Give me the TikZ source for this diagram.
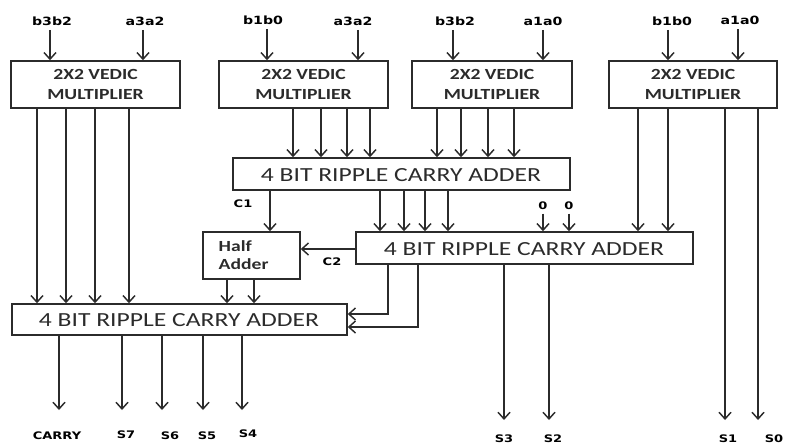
\documentclass[tikz,border=0pt]{standalone}
\usepackage{fontspec}
\usetikzlibrary{arrows.meta,fit}
\newfontfamily\labfont[FakeStretch=1.25]{DejaVu Sans}
\newfontfamily\calbold[FakeStretch=1.27]{Carlito}
\newfontfamily\calreg[FakeStretch=1.28]{Carlito}
\definecolor{ink}{HTML}{2B2B2B}
\tikzset{
  box/.style={draw=ink, line width=1.1pt, rectangle, inner sep=0pt},
  arr/.style={draw=ink, line width=1.1pt, -{Straight Barb[length=5pt,width=9pt,line width=1.1pt]}},
  wire/.style={draw=ink, line width=1.1pt},
  toplab/.style={inner sep=1pt, font=\labfont\bfseries\fontsize{8.5}{10}\selectfont, text=black},
  botlab/.style={inner sep=1pt, font=\labfont\bfseries\fontsize{7.8}{9}\selectfont, text=black},
  multtxt/.style={font=\calbold\bfseries\fontsize{11.6}{15.5}\selectfont, align=center, text=ink},
  addtxt/.style={font=\calreg\fontsize{15}{18}\selectfont, text=ink},
}
\begin{document}
\begin{tikzpicture}[x=0.75pt,y=-0.75pt]
\useasboundingbox (0,0) rectangle (787,447);
% multipliers
\node[box, fit={(11,61) (180,108)}] (m1) {};
\node[box, fit={(219,61) (388,108)}] (m2) {};
\node[box, fit={(412,61) (572,108)}] (m3) {};
\node[box, fit={(609,61) (777,108)}] (m4) {};
\foreach \m in {m1,m2,m3,m4}
  \node[multtxt] (\m t) at (\m.center) {2X2 VEDIC\\MULTIPLIER};
% adders
\node[box, fit={(233,158) (570,190)}] (add1) {};
\node[addtxt] (add1t) at (401,175) {4 BIT RIPPLE CARRY ADDER};
\node[box, fit={(356,232) (693,264)}] (add2) {};
\node[addtxt] (add2t) at (524,249) {4 BIT RIPPLE CARRY ADDER};
\node[box, fit={(12,304) (347,335)}] (add3) {};
\node[addtxt] (add3t) at (179,320) {4 BIT RIPPLE CARRY ADDER};
\node[box, fit={(203,232) (300,279)}] (ha) {};
\node[multtxt, anchor=west] (hat1) at (214,246) {Half};
\node[multtxt, anchor=west] (hat2) at (214,264) {Adder};
% top labels
\node[toplab] (l1) at (52,21) {b3b2};
\node[toplab] (l2) at (145,21) {a3a2};
\node[toplab] (l3) at (263,20) {b1b0};
\node[toplab] (l4) at (353,21) {a3a2};
\node[toplab] (l5) at (455,21) {b3b2};
\node[toplab] (l6) at (543,21) {a1a0};
\node[toplab] (l7) at (672,21) {b1b0};
\node[toplab] (l8) at (740,20) {a1a0};
\draw[arr] (l1.south -| 50,0) ++(0,3) -- (m1.north -| 50,0);
\draw[arr] (l2.south -| 143,0) ++(0,3) -- (m1.north -| 143,0);
\draw[arr] (l3.south -| 267,0) ++(0,3) -- (m2.north -| 267,0);
\draw[arr] (l4.south -| 358,0) ++(0,3) -- (m2.north -| 358,0);
\draw[arr] (l5.south -| 453,0) ++(0,3) -- (m3.north -| 453,0);
\draw[arr] (l6.south -| 543,0) ++(0,3) -- (m3.north -| 543,0);
\draw[arr] (l7.south -| 668,0) ++(0,3) -- (m4.north -| 668,0);
\draw[arr] (l8.south -| 738,0) ++(0,3) -- (m4.north -| 738,0);
% m1 -> add3
\foreach \x in {37,66,95,129}
  \draw[arr] (m1.south -| \x,0) -- (add3.north -| \x,0);
% m2 -> add1
\foreach \x in {293,321,347,370}
  \draw[arr] (m2.south -| \x,0) -- (add1.north -| \x,0);
% m3 -> add1
\foreach \x in {437,461,488,514}
  \draw[arr] (m3.south -| \x,0) -- (add1.north -| \x,0);
% m4 -> add2
\foreach \x in {638,668}
  \draw[arr] (m4.south -| \x,0) -- (add2.north -| \x,0);
% add1 -> add2
\foreach \x in {380,404,425,448}
  \draw[arr] (add1.south -| \x,0) -- (add2.north -| \x,0);
% C1
\draw[arr] (add1.south -| 270,0) -- (ha.north -| 270,0);
\node[botlab] (c1) at (243,204) {C1};
% zeros
\node[botlab] (z1) at (543,206) {0};
\node[botlab] (z2) at (569,206) {0};
\draw[arr] (z1.south) ++(0,2) -- (add2.north -| z1);
\draw[arr] (z2.south) ++(0,2) -- (add2.north -| z2);
% C2
\draw[arr] (add2.west |- 0,249) -- (ha.east |- 0,249);
\node[botlab] (c2) at (332,262) {C2};
% ha -> add3
\foreach \x in {227,254}
  \draw[arr] (ha.south -| \x,0) -- (add3.north -| \x,0);
% add2 -> add3
\draw[arr] (add2.south -| 388,0) |- (add3.east |- 0,314);
\draw[arr] (add2.south -| 418,0) |- (add3.east |- 0,327);
% outputs
\node[botlab] (oc) at (57,436) {CARRY};
\node[botlab] (o7) at (126,435) {S7};
\node[botlab] (o6) at (170,436) {S6};
\node[botlab] (o5) at (207,436) {S5};
\node[botlab] (o4) at (248,434) {S4};
\node[botlab] (o3) at (504,439) {S3};
\node[botlab] (o2) at (553,439) {S2};
\node[botlab] (o1) at (728,439) {S1};
\node[botlab] (o0) at (774,439) {S0};
\coordinate (tc) at (59,410);
\coordinate (t7) at (122,410);
\coordinate (t6) at (162,410);
\coordinate (t5) at (203,410);
\coordinate (t4) at (242,410);
\coordinate (t3) at (504,420);
\coordinate (t2) at (549,420);
\coordinate (t1) at (725,420);
\coordinate (t0) at (758,420);
\foreach \t in {tc,t7,t6,t5,t4}
  \draw[arr] (add3.south -| \t) -- (\t);
\foreach \t in {t3,t2}
  \draw[arr] (add2.south -| \t) -- (\t);
\foreach \t in {t1,t0}
  \draw[arr] (m4.south -| \t) -- (\t);
\end{tikzpicture}
\end{document}
